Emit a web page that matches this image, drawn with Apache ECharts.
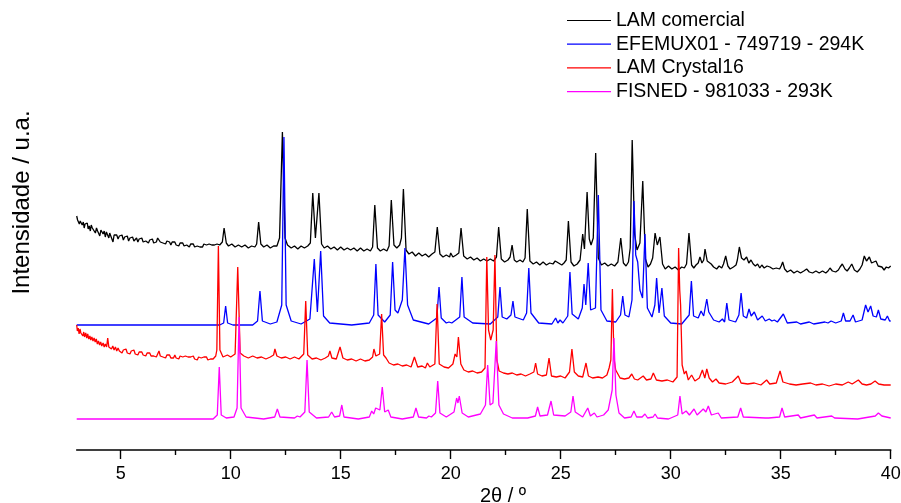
<!DOCTYPE html>
<html>
<head>
<meta charset="utf-8">
<script src="https://cdn.jsdelivr.net/npm/echarts@6/dist/echarts.min.js"></script>
<style>html,body{margin:0;padding:0;background:#fff}#c{width:901px;height:503px}</style>
</head>
<body>
<div id="c"></div>
<script>
// ---- data (2θ in degrees, intensity in arbitrary units, traces already stacked) ----
const seriesNames = ['LAM comercial', 'EFEMUX01 - 749719 - 294K', 'LAM Crystal16', 'FISNED - 981033 - 293K'];
const majorTicks = [5, 10, 15, 20, 25, 30, 35, 40];
const minorTicks = [7.5, 12.5, 17.5, 22.5, 27.5, 32.5, 37.5];

const lamComercial = [
[3.00,234],[3.04,230],[3.08,231],[3.12,226],[3.16,229],[3.2,227],[3.25,225],[3.3,228],[3.34,222],[3.38,226],[3.43,224],[3.48,227],[3.52,221],[3.57,224],[3.62,219],[3.66,225],[3.71,222],[3.76,220],[3.8,224],[3.85,217],[3.9,222],[3.95,219],[4.0,221],[4.05,214],[4.1,220],[4.15,218],[4.2,216],[4.25,219],[4.3,213],[4.35,218],[4.4,216],[4.46,212],[4.5,217],[4.55,214],[4.6,216],[4.65,208],[4.7,215],[4.76,213],[4.82,215],[4.88,211],[4.94,214],[5.0,212],[5.06,215],[5.12,210],[5.18,213],[5.24,211],[5.3,214],[5.36,209],[5.42,212],[5.48,210],[5.54,213],[5.6,209],[5.66,211],[5.72,212],[5.78,208],[5.84,211],[5.9,209],[5.96,212],[6.02,208],[6.08,210],[6.14,209],[6.2,211],[6.26,207],[6.32,210],[6.38,208],[6.44,211],[6.5,207],[6.56,209],[6.62,208],[6.68,212],[6.74,210],[6.8,208],[6.86,210],[6.92,207],[6.98,209],[7.04,206],[7.1,209],[7.16,207],[7.22,208],[7.28,205],[7.34,208],[7.4,206],[7.46,208],[7.52,205],[7.58,207],[7.64,204],[7.7,207],[7.76,205],[7.82,207],[7.88,204],[7.94,206],[8.0,205],[8.06,207],[8.12,203],[8.18,206],[8.24,204],[8.3,206],[8.36,203],[8.42,205],[8.48,204],[8.54,206],[8.6,203],[8.66,205],[8.72,203],[8.78,206],[8.84,204],[8.9,205],[8.96,203],[9.02,206],[9.08,204],[9.14,205],[9.2,203],[9.26,205],[9.32,204],[9.38,206],[9.44,204],[9.5,205],[9.56,204],[9.62,208],
[9.70,222],[9.8,207],[9.9,204],[10.05,206],[10.2,203],[10.35,205],[10.5,203],[10.65,205],[10.8,202],[10.95,204],[11.1,203],[11.18,206],
[11.27,228],[11.37,206],[11.5,203],[11.65,205],[11.8,202],[11.95,204],[12.1,204],[12.22,212],
[12.35,318],[12.47,212],[12.58,205],[12.75,202],[12.9,204],[13.05,201],[13.2,204],[13.35,202],[13.5,204],[13.62,207],
[13.73,257],[13.85,212],[13.9,214],[14.01,257],[14.13,206],[14.25,202],[14.4,204],[14.55,201],[14.7,203],[14.85,200],[15.0,203],[15.15,200],[15.3,202],[15.45,200],[15.6,202],[15.75,199],[15.9,202],[16.05,199],[16.2,201],[16.35,199],[16.45,203],
[16.55,245],[16.67,202],[16.8,199],[16.95,201],[17.1,199],[17.2,204],
[17.30,250],[17.42,205],[17.55,202],[17.68,205],[17.76,212],
[17.85,261],[17.97,200],[18.1,196],[18.25,198],[18.4,194],[18.55,197],[18.7,194],[18.85,196],[19.0,193],[19.15,196],[19.28,198],
[19.39,223],[19.51,196],[19.65,193],[19.8,195],[19.95,193],[20.0,197],[20.1,193],[20.25,195],[20.37,197],
[20.47,222],[20.59,194],[20.75,191],[20.9,193],[21.05,190],[21.2,192],[21.35,189],[21.5,191],[21.65,189],[21.8,191],[21.95,189],[22.08,193],
[22.18,223],[22.3,191],[22.45,188],[22.6,190],[22.7,193],[22.79,205],[22.89,190],[23.0,188],[23.15,190],[23.28,188],[23.38,192],
[23.48,241],[23.6,189],[23.75,186],[23.9,188],[24.05,185],[24.2,188],[24.35,185],[24.5,187],[24.65,186],[24.75,189],[24.82,191],[24.9,187],[25.05,185],[25.15,187],[25.25,190],
[25.35,229],[25.47,188],[25.6,184],[25.75,186],[25.88,190],[26.0,216],[26.08,201],[26.2,258],[26.3,211],[26.38,205],[26.48,212],
[26.59,297],[26.71,192],[26.85,185],[27.0,187],[27.15,184],[27.3,186],[27.45,184],[27.6,188],
[27.73,212],[27.85,187],[27.97,184],[28.08,188],[28.16,202],[28.25,310],[28.36,216],[28.47,200],[28.6,207],
[28.73,269],[28.85,191],[28.97,183],[29.08,186],[29.18,192],[29.29,217],[29.39,205],[29.51,213],[29.63,186],[29.75,181],[29.9,184],[30.05,181],[30.2,183],[30.35,180],[30.5,183],[30.62,182],[30.72,186],
[30.83,217],[30.95,185],[31.05,182],[31.15,185],[31.25,187],[31.33,193],[31.42,187],[31.5,190],[31.56,201],[31.66,189],[31.75,190],[31.84,186],[31.95,183],[32.09,181],[32.2,184],[32.32,182],[32.4,186],
[32.50,194],[32.6,184],[32.7,181],[32.85,183],[32.97,185],[33.03,190],[33.12,203],[33.22,192],[33.33,190],[33.45,193],[33.55,187],[33.65,190],[33.75,186],[33.85,184],[33.95,186],[34.05,182],[34.14,185],[34.25,182],[34.38,184],[34.51,183],[34.65,181],[34.8,182],[34.95,181],[35.02,184],
[35.09,188],[35.18,181],[35.3,178],[35.45,180],[35.6,177],[35.75,179],[35.9,177],[36.05,179],[36.18,181],[36.3,178],[36.45,177],[36.6,179],[36.75,177],[36.9,179],[37.05,177],[37.15,179],[37.24,182],[37.35,179],[37.5,178],[37.62,180],[37.7,183],
[37.80,186],[37.92,181],[38.02,179],[38.12,182],[38.23,186],[38.35,180],[38.48,178],[38.6,181],[38.7,185],[38.8,194],[38.9,189],[38.95,191],[39.03,193],[39.13,187],[39.22,186],[39.33,189],[39.43,184],[39.52,182],[39.6,183],[39.7,180],[39.8,183],[39.9,182],[40.0,184]
];

const efemux01 = [
[3,125],[9.5,125],[9.68,127],[9.77,144],[9.86,127],[10.1,125],[11.0,125],[11.22,129],[11.33,159],[11.44,129],[11.8,126],[12.1,128],[12.32,145],[12.42,313],[12.52,145],[12.75,129],[13.2,126],[13.6,131],[13.80,191],[13.94,138],[14.09,199],[14.22,134],[14.5,127],[15.5,125],[16.3,127],[16.5,135],[16.60,186],[16.7,135],[17.0,128],[17.25,135],[17.36,188],[17.47,140],[17.6,137],[17.8,150],[17.92,202],[18.04,145],[18.3,130],[19.0,126],[19.37,132],[19.47,163],[19.57,132],[19.8,127],[19.92,128],[20.05,127],[20.41,133],[20.51,173],[20.61,133],[21.0,127],[21.8,126],[22.14,133],[22.24,163],[22.34,133],[22.55,131],[22.74,135],[22.83,149],[22.92,133],[23.3,130],[23.45,137],[23.55,182],[23.65,137],[24.0,127],[24.6,126],[24.77,132],[24.87,127],[24.97,130],[25.1,127],[25.32,134],[25.42,178],[25.52,136],[25.8,131],[25.98,142],[26.06,166],[26.14,145],[26.25,187],[26.36,140],[26.58,142],[26.71,255],[26.83,140],[27.1,129],[27.5,128],[27.72,135],[27.82,154],[27.92,135],[28.1,133],[28.24,150],[28.33,249],[28.41,195],[28.50,188],[28.6,160],[28.72,152],[28.83,216],[28.94,142],[29.15,133],[29.28,145],[29.36,172],[29.47,137],[29.60,162],[29.71,134],[30.0,127],[30.5,126],[30.84,135],[30.94,169],[31.04,134],[31.25,132],[31.38,139],[31.5,134],[31.64,151],[31.73,138],[31.82,139],[31.95,130],[32.2,128],[32.35,131],[32.45,128],[32.55,147],[32.65,130],[32.95,128],[33.1,135],[33.20,157],[33.3,134],[33.45,132],[33.56,141],[33.66,134],[33.8,138],[33.95,130],[34.16,134],[34.3,129],[34.48,131],[34.6,129],[34.71,130],[34.85,128],[35.12,136],[35.3,127],[35.73,128],[35.9,126],[36.3,128],[36.5,126],[37.01,128],[37.15,127],[37.29,129],[37.5,127],[37.75,129],[37.85,137],[37.95,129],[38.15,129],[38.29,135],[38.4,128],[38.7,130],[38.86,145],[38.97,138],[39.09,144],[39.2,134],[39.35,133],[39.44,140],[39.55,131],[39.75,130],[39.85,134],[39.95,129],[40,129]
];

const lamCrystal16 = [
[3.00,125],[3.03,119],[3.07,122],[3.11,116],[3.15,121],[3.19,117],[3.23,119],[3.28,114],[3.32,118],[3.36,113],[3.41,117],[3.46,112],[3.5,116],[3.55,111],[3.6,114],[3.64,110],[3.69,113],[3.74,109],[3.79,112],[3.84,108],[3.89,111],[3.94,106],[3.99,109],[4.04,105],[4.09,108],[4.14,104],[4.2,107],[4.25,103],[4.3,106],[4.36,103],[4.41,112],[4.46,103],[4.52,105],[4.58,101],[4.64,104],[4.7,100],[4.76,103],[4.82,99],[4.88,102],[4.94,99],[5.0,101],[5.06,97],[5.12,100],[5.18,98],[5.24,101],[5.3,97],[5.36,99],[5.42,96],[5.48,99],[5.54,97],[5.6,100],[5.66,96],[5.72,98],[5.78,95],[5.84,98],[5.9,96],[5.96,98],[6.02,95],[6.08,97],[6.14,94],[6.2,97],[6.26,95],[6.32,97],[6.38,94],[6.44,96],[6.5,94],[6.56,96],[6.62,93],[6.68,96],[6.74,99],[6.8,94],[6.86,95],[6.92,93],[6.98,95],[7.04,92],[7.1,95],[7.16,93],[7.22,95],[7.28,92],[7.34,94],[7.4,92],[7.46,95],[7.52,92],[7.58,94],[7.64,91],[7.7,94],[7.76,92],[7.82,93],[7.88,91],[7.94,94],[8.0,92],[8.06,93],[8.12,91],[8.18,93],[8.24,91],[8.3,94],[8.36,91],[8.42,93],[8.48,90],[8.54,93],[8.6,91],[8.66,92],[8.72,90],[8.78,93],[8.84,91],[8.9,93],[8.96,90],[9.02,92],[9.08,91],[9.14,93],[9.2,91],[9.26,93],[9.32,94],
[9.37,100],[9.44,204],[9.51,100],[9.65,93],[9.85,95],[10.0,93],[10.2,96],[10.32,183],[10.43,97],[10.6,94],[10.8,92],[11.0,94],[11.2,92],[11.4,93],[11.6,91],[11.8,93],[11.95,95],[12.01,101],[12.1,94],[12.3,92],[12.5,93],[12.7,91],[12.9,93],[13.1,91],[13.32,96],[13.41,149],[13.5,95],[13.7,91],[13.9,92],[14.1,90],[14.3,92],[14.44,94],[14.51,99],[14.6,92],[14.8,91],[14.97,103],[15.1,92],[15.3,90],[15.5,91],[15.7,89],[15.9,91],[16.1,89],[16.3,90],[16.45,93],[16.51,101],[16.6,94],[16.77,96],[16.86,136],[16.95,95],[17.06,92],[17.2,87],[17.4,85],[17.6,86],[17.8,84],[18.0,85],[18.2,83],[18.35,93],[18.5,83],[18.7,84],[18.85,82],[18.94,87],[19.05,83],[19.28,86],[19.38,146],[19.48,86],[19.7,83],[19.9,82],[20.1,86],[20.2,96],[20.28,93],[20.35,113],[20.46,86],[20.6,80],[20.8,78],[21.0,79],[21.2,77],[21.4,78],[21.56,82],[21.64,193],[21.72,120],[21.82,110],[21.93,120],[22.01,195],[22.1,90],[22.2,79],[22.4,77],[22.6,76],[22.8,77],[23.0,75],[23.2,76],[23.4,74],[23.6,76],[23.78,78],[23.86,87],[23.95,76],[24.15,74],[24.35,75],[24.47,92],[24.58,74],[24.8,73],[25.0,74],[25.2,72],[25.4,78],[25.51,101],[25.62,78],[25.8,74],[26.0,73],[26.15,87],[26.26,74],[26.45,72],[26.7,73],[26.9,72],[27.1,75],[27.2,82],[27.28,90],[27.35,161],[27.42,92],[27.5,80],[27.7,72],[27.9,71],[28.1,72],[28.23,76],[28.35,71],[28.5,70],[28.75,74],[28.9,70],[29.1,71],[29.21,77],[29.35,70],[29.6,69],[29.85,70],[30.1,68],[30.29,73],[30.36,202],[30.41,160],[30.45,145],[30.52,85],[30.62,76],[30.7,79],[30.8,70],[30.95,75],[31.1,69],[31.3,72],[31.44,80],[31.55,72],[31.64,81],[31.75,72],[31.9,68],[32.06,71],[32.2,67],[32.5,66],[32.8,68],[33.07,74],[33.2,67],[33.5,66],[33.8,67],[34.1,65],[34.36,70],[34.5,66],[34.8,67],[34.97,79],[35.1,68],[35.4,66],[35.7,65],[36.0,66],[36.36,67],[36.6,65],[36.9,66],[37.2,64],[37.5,66],[37.8,65],[38.07,68],[38.25,66],[38.53,70],[38.7,66],[38.9,65],[39.1,66],[39.29,69],[39.45,66],[39.7,65],[40,65]
];

const fisned = [
[3,31],[9.2,31],[9.39,35],[9.48,83],[9.57,35],[9.8,32],[10.15,33],[10.29,42],[10.38,133],[10.47,42],[10.7,33],[11.5,31],[12.0,33],[12.12,41],[12.24,33],[12.9,32],[13.03,34],[13.15,33],[13.37,38],[13.47,90],[13.57,38],[13.9,32],[14.45,33],[14.59,38],[14.72,33],[14.95,34],[15.05,45],[15.15,33],[15.8,31],[16.3,33],[16.41,39],[16.5,36],[16.59,42],[16.78,40],[16.89,63],[17.0,38],[17.16,40],[17.28,33],[17.8,31],[18.3,33],[18.42,42],[18.54,33],[18.9,32],[19.01,34],[19.12,33],[19.31,37],[19.41,69],[19.51,37],[19.8,33],[20.15,38],[20.27,52],[20.33,47],[20.39,54],[20.52,37],[20.8,33],[21.35,36],[21.58,45],[21.68,85],[21.79,45],[21.92,47],[22.07,109],[22.19,45],[22.4,36],[22.8,32],[23.5,32],[23.85,34],[23.95,43],[24.06,34],[24.4,35],[24.56,49],[24.68,35],[25.2,34],[25.46,38],[25.56,54],[25.66,38],[26.0,33],[26.23,42],[26.35,34],[26.53,37],[26.65,33],[26.95,35],[27.16,40],[27.25,42],[27.34,60],[27.42,112],[27.51,55],[27.65,37],[27.9,32],[28.2,33],[28.33,39],[28.45,33],[28.7,33],[28.83,36],[28.95,32],[29.2,33],[29.29,36],[29.4,32],[29.9,31],[30.32,35],[30.42,54],[30.52,36],[30.7,39],[30.85,35],[31.06,41],[31.2,35],[31.48,41],[31.6,38],[31.71,44],[31.85,35],[32.16,37],[32.3,32],[33.05,33],[33.18,42],[33.3,33],[34.3,32],[34.36,34],[34.45,32],[34.95,33],[35.06,42],[35.18,33],[35.8,35],[35.9,32],[36.53,35],[36.65,32],[37.32,34],[37.45,32],[38.5,31],[39.3,34],[39.44,37],[39.6,34],[40,32]
];

const seriesData = [lamComercial, efemux01, lamCrystal16, fisned];
const seriesColors = ['#000000', '#0000ff', '#ff0000', '#ff00ff'];

// ---- chart ----
const FONT = 'Liberation Sans, Arial, sans-serif';
const chart = echarts.init(document.getElementById('c'), null, {renderer: 'canvas'});
const option = {
  animation: false,
  backgroundColor: '#ffffff',
  grid: {left: 76.7, right: 10.3, top: 130, bottom: 53, outerBoundsMode: 'none', containLabel: false},
  legend: {
    orient: 'vertical', left: 567, top: 10.5, padding: 0, itemGap: 3.7,
    icon: 'rect', itemWidth: 44, itemHeight: 1.2,
    textStyle: {fontFamily: FONT, fontSize: 19.5, color: '#000', lineHeight: 20},
    data: seriesNames, selectedMode: false
  },
  xAxis: [{
    type: 'value', min: 3, max: 40, position: 'bottom',
    axisLine: {show: true, onZero: false, lineStyle: {color: '#000', width: 1.6}},
    axisTick: {show: true, inside: false, length: 9, customValues: majorTicks, lineStyle: {color: '#000', width: 1.4}},
    axisLabel: {show: true, customValues: majorTicks, margin: 15, fontFamily: FONT, fontSize: 18, color: '#000'},
    splitLine: {show: false}
  }, {
    type: 'value', min: 3, max: 40, position: 'bottom', gridIndex: 0,
    axisLine: {show: false, onZero: false},
    axisTick: {show: true, inside: false, length: 5, customValues: minorTicks, lineStyle: {color: '#000', width: 1.4}},
    axisLabel: {show: false},
    splitLine: {show: false}
  }],
  yAxis: {type: 'value', min: 0, max: 320, show: false},
  graphic: [
    {type: 'text', x: 22.5, y: 202.5, rotation: Math.PI / 2,
     style: {text: 'Intensidade / u.a.', fontFamily: FONT, fontSize: 24, fill: '#000', align: 'center', verticalAlign: 'middle'}},
    {type: 'text', x: 503, y: 496,
     style: {text: '2θ / º', fontFamily: FONT, fontSize: 20, fill: '#000', align: 'center', verticalAlign: 'middle'}}
  ],
  series: seriesNames.map((name, i) => ({
    name: name, type: 'line', xAxisIndex: 0, yAxisIndex: 0,
    data: seriesData[i], showSymbol: false, symbol: 'none', smooth: false, sampling: null,
    lineStyle: {color: seriesColors[i], width: 1.3}, itemStyle: {color: seriesColors[i]},
    clip: false, z: 2 + i
  }))
};
chart.setOption(option);
</script>
</body>
</html>
